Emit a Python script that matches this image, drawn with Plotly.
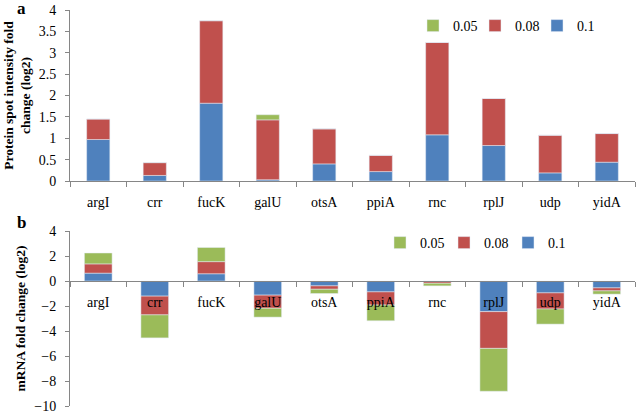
import plotly.graph_objects as go

genes = ["argI", "crr", "fucK", "galU", "otsA", "ppiA", "rnc", "rplJ", "udp", "yidA"]
series_names = ["0.1", "0.08", "0.05"]
colors = ["#4F81BD", "#C0504D", "#9BBB59"]

# Panel a: protein spot intensity fold change (log2), stacked segments
protein_01 = [0.97, 0.13, 1.82, 0.03, 0.40, 0.22, 1.08, 0.83, 0.19, 0.44]
protein_008 = [0.48, 0.30, 1.93, 1.40, 0.82, 0.38, 2.16, 1.10, 0.88, 0.67]
protein_005 = [0, 0, 0, 0.12, 0, 0, 0, 0, 0, 0]

# Panel b: mRNA fold change (log2), stacked segments
mrna_01 = [0.63, -1.21, 0.58, -1.13, -0.39, -0.87, -0.03, -2.45, -0.95, -0.55]
mrna_008 = [0.74, -1.50, 0.97, -1.05, -0.27, -1.05, -0.15, -2.94, -1.29, -0.24]
mrna_005 = [0.87, -1.84, 1.13, -0.71, -0.34, -1.26, -0.21, -3.43, -1.21, -0.26]

y_ticks_a = [0, 0.5, 1, 1.5, 2, 2.5, 3, 3.5, 4]
y_ticks_b = [4, 2, 0, -2, -4, -6, -8, -10]

FONT = "Liberation Serif, Times New Roman, serif"
AXIS_COLOR = "#868686"

fig = go.Figure()

for name, vals, col in zip(series_names, [protein_01, protein_008, protein_005], colors):
    fig.add_trace(go.Bar(x=genes, y=vals, name=name, marker_color=col, width=0.41,
                         xaxis="x", yaxis="y", legend="legend"))

for name, vals, col in zip(series_names, [mrna_01, mrna_008, mrna_005], colors):
    fig.add_trace(go.Bar(x=genes, y=vals, name=name, marker_color=col, width=0.49,
                         xaxis="x2", yaxis="y2", legend="legend2"))

W, H = 638, 414
L, R, T, B = 70, 3, 10, 8
pw, ph = W - L - R, H - T - B


def px_to_paper(px, py):
    return (px - L) / pw, (H - B - py) / ph


dom_a = [px_to_paper(0, 181)[1], 1.0]
dom_b = [0.0, px_to_paper(0, 231)[1]]
zero_pos_b = dom_b[0] + (dom_b[1] - dom_b[0]) * 10 / 14

tickfont = dict(family=FONT, size=14, color="black")
titlefont = dict(family=FONT, size=13.5, color="black", weight="bold")

fig.update_layout(
    width=W, height=H,
    margin=dict(l=L, r=R, t=T, b=B, autoexpand=False),
    paper_bgcolor="white", plot_bgcolor="white",
    barmode="relative",
    font=dict(family=FONT, size=14, color="black"),
    xaxis=dict(domain=[0, 1], anchor="y", type="category", showline=True, linecolor=AXIS_COLOR,
               linewidth=1, ticks="outside", tickson="boundaries", ticklen=5, tickcolor=AXIS_COLOR,
               tickfont=tickfont, ticklabelstandoff=8, showgrid=False, zeroline=False),
    yaxis=dict(domain=dom_a, anchor="x", range=[0, 4], tickvals=y_ticks_a,
               ticktext=[f"{v:g}" for v in y_ticks_a], showline=True, linecolor=AXIS_COLOR,
               ticks="outside", ticklen=4, tickcolor=AXIS_COLOR, tickfont=tickfont,
               ticklabelstandoff=6, ticklabeloverflow="allow", showgrid=False, zeroline=False,
               title=dict(text="Protein spot intensity fold<br>change (log2)", font=titlefont,
                          standoff=4)),
    xaxis2=dict(domain=[0, 1], anchor="free", position=zero_pos_b, type="category",
                showline=True, linecolor=AXIS_COLOR, linewidth=1, ticks="outside",
                tickson="boundaries", ticklen=5, tickcolor=AXIS_COLOR, tickfont=tickfont,
                ticklabelstandoff=8, showgrid=False, zeroline=False),
    yaxis2=dict(domain=dom_b, anchor="x2", range=[-10, 4], tickvals=y_ticks_b,
                showline=True, linecolor=AXIS_COLOR, ticks="outside", ticklen=4,
                tickcolor=AXIS_COLOR, tickfont=tickfont, ticklabelstandoff=6,
                ticklabeloverflow="allow", showgrid=False, zeroline=False,
                title=dict(text="mRNA fold change (log2)", font=titlefont, standoff=5)),
    legend=dict(orientation="h", traceorder="reversed",
                x=px_to_paper(413, 0)[0], y=px_to_paper(0, 26)[1], xanchor="left",
                yanchor="middle", font=dict(family=FONT, size=14), entrywidth=17,
                bgcolor="rgba(0,0,0,0)"),
    legend2=dict(orientation="h", traceorder="reversed",
                 x=px_to_paper(380, 0)[0], y=px_to_paper(0, 243)[1], xanchor="left",
                 yanchor="middle", font=dict(family=FONT, size=14), entrywidth=19,
                 bgcolor="rgba(0,0,0,0)"),
)

ax_, ay_ = px_to_paper(21, 9)
bx_, by_ = px_to_paper(21, 222)
fig.add_annotation(text="<b>a</b>", x=ax_, y=ay_, xref="paper", yref="paper", showarrow=False,
                   xanchor="center", yanchor="middle", font=dict(family=FONT, size=17))
fig.add_annotation(text="<b>b</b>", x=bx_, y=by_, xref="paper", yref="paper", showarrow=False,
                   xanchor="center", yanchor="middle", font=dict(family=FONT, size=17))

fig.write_html("out.html", config={"displayModeBar": False},
               post_script="document.body.style.margin='0px';")
